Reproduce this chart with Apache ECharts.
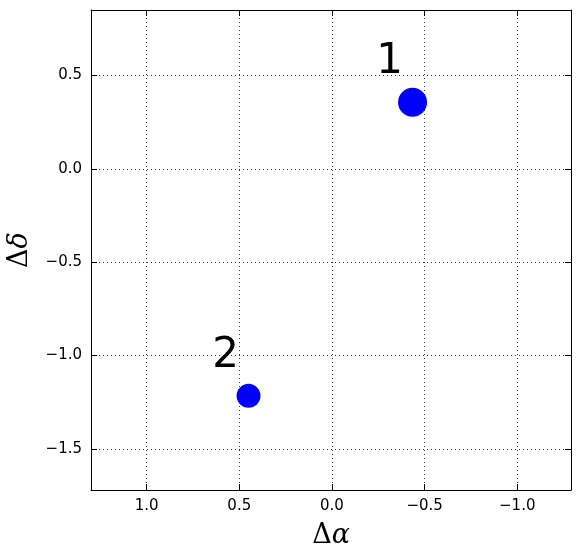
<!DOCTYPE html>
<html>
<head>
<meta charset="utf-8">
<script src="https://cdn.jsdelivr.net/npm/echarts@6/dist/echarts.min.js"></script>
<style>html,body{margin:0;padding:0;background:#fff}#c{width:580px;height:558px}</style>
</head>
<body>
<div id="c"></div>
<script>
var pointLabels = ['1', '2'];
var dAlpha = [-0.435, 0.45];
var dDelta = [0.356, -1.216];
var markerSizes = [29, 24];
var xTicks = [1.0, 0.5, 0.0, -0.5, -1.0];
var yTicks = [0.5, 0.0, -0.5, -1.0, -1.5];
var xRange = [-1.29, 1.3];
var yRange = [-1.72, 0.85];

function fmt(v) {
  var s = v.toFixed(1);
  return s.replace('-', '\u2212');
}
var tickFont = {fontFamily: 'DejaVu Sans', fontSize: 15, color: '#000'};
var gridLine = {show: true, lineStyle: {color: '#000', width: 0.8, type: [1, 3]}};
var axisLineStyle = {show: true, onZero: false, lineStyle: {color: '#000', width: 1}};

function xAxis(pos, main) {
  return {
    type: 'value', position: pos, inverse: true, min: xRange[0], max: xRange[1],
    axisLine: axisLineStyle,
    axisTick: {show: true, inside: true, length: 6, customValues: xTicks, lineStyle: {color: '#000'}},
    axisLabel: main ? Object.assign({show: true, customValues: xTicks, margin: 9, formatter: fmt}, tickFont) : {show: false},
    splitLine: main ? gridLine : {show: false},
    name: main ? '{d|\u0394}{g|\u03b1}' : '',
    nameLocation: 'middle', nameGap: 32,
    nameTextStyle: {rich: {d: {fontFamily: 'DejaVu Serif', fontSize: 27, color: '#000'}, g: {fontFamily: 'DejaVu Serif', fontStyle: 'italic', fontSize: 27, color: '#000'}}}
  };
}
function yAxis(pos, main) {
  return {
    type: 'value', position: pos, min: yRange[0], max: yRange[1],
    axisLine: axisLineStyle,
    axisTick: {show: true, inside: true, length: 6, customValues: yTicks, lineStyle: {color: '#000'}},
    axisLabel: main ? Object.assign({show: true, customValues: yTicks, margin: 9, formatter: fmt}, tickFont) : {show: false},
    splitLine: main ? gridLine : {show: false},
    name: main ? '{d|\u0394}{g|\u03b4}' : '',
    nameLocation: 'middle', nameGap: 58,
    nameTextStyle: {rich: {d: {fontFamily: 'DejaVu Serif', fontSize: 27, color: '#000'}, g: {fontFamily: 'DejaVu Serif', fontStyle: 'italic', fontSize: 27, color: '#000'}}}
  };
}

var data = dAlpha.map(function (x, i) {
  return {value: [x, dDelta[i]], symbolSize: markerSizes[i], name: pointLabels[i]};
});

var chart = echarts.init(document.getElementById('c'), null, {renderer: 'canvas'});
chart.setOption({
  animation: false,
  backgroundColor: '#fff',
  grid: {left: 91, right: 9, top: 10, bottom: 68, show: false, containLabel: false, outerBoundsMode: 'none'},
  xAxis: [xAxis('bottom', true), xAxis('top', false)],
  yAxis: [yAxis('left', true), yAxis('right', false)],
  series: [{
    type: 'scatter', xAxisIndex: 0, yAxisIndex: 0,
    data: data,
    itemStyle: {color: '#0000ff', opacity: 1},
    label: {
      show: true, position: 'inside', offset: [-23, -40],
      formatter: function (p) { return p.name; },
      fontFamily: 'DejaVu Sans', fontSize: 42, color: '#000'
    }
  }]
});
</script>
</body>
</html>
